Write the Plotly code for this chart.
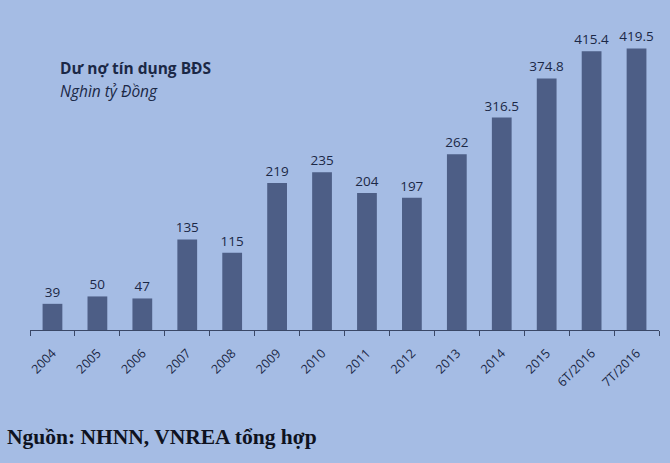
import plotly.graph_objects as go

categories = ["2004", "2005", "2006", "2007", "2008", "2009", "2010", "2011",
              "2012", "2013", "2014", "2015", "6T/2016", "7T/2016"]
values = [39, 50, 47, 135, 115, 219, 235, 204, 197, 262, 316.5, 374.8, 415.4, 419.5]
value_labels = ["39", "50", "47", "135", "115", "219", "235", "204", "197",
                "262", "316.5", "374.8", "415.4", "419.5"]

bg = "#a5bce4"
ink = "#1b2846"

fig = go.Figure()
fig.add_trace(go.Bar(
    x=categories, y=values,
    text=value_labels, textposition="outside", constraintext="none",
    textfont=dict(family="Open Sans", size=13.5, color=ink),
    marker=dict(color="#4d5e86", line=dict(width=0)),
    cliponaxis=False,
))

fig.update_layout(
    width=670, height=463,
    margin=dict(l=30, r=11, t=28, b=133),
    paper_bgcolor=bg, plot_bgcolor=bg,
    bargap=0.56,
    showlegend=False,
    xaxis=dict(
        type="category", tickson="boundaries", ticks="outside", ticklen=5,
        tickcolor="#3a4766", showline=True, linecolor="#3a4766", linewidth=1,
        tickangle=-45, tickfont=dict(family="Open Sans", size=12.5, color=ink),
        ticklabelstandoff=10,
        showgrid=False, zeroline=False,
    ),
    yaxis=dict(range=[0, 450], visible=False, showgrid=False, zeroline=False),
    annotations=[
        dict(text="<b>Dư nợ tín dụng BĐS</b>", xref="paper", yref="paper",
             x=0.045, y=0.866, xanchor="left", yanchor="middle", showarrow=False,
             font=dict(family="Open Sans", size=15.5, color=ink)),
        dict(text="<i>Nghìn tỷ Đồng</i>", xref="paper", yref="paper",
             x=0.045, y=0.79, xanchor="left", yanchor="middle", showarrow=False,
             font=dict(family="Open Sans", size=15.5, color=ink)),
        dict(text="<b>Nguồn: NHNN, VNREA tổng hợp</b>", xref="paper", yref="paper",
             x=-0.04, y=-0.354, xanchor="left", yanchor="middle", showarrow=False,
             font=dict(family="Liberation Serif", size=21.5, color="#0e1220")),
    ],
)

fig.write_html(
    "out.html",
    config={"displayModeBar": False},
    post_script="document.body.style.margin='0';document.body.style.background='%s';" % bg,
)
